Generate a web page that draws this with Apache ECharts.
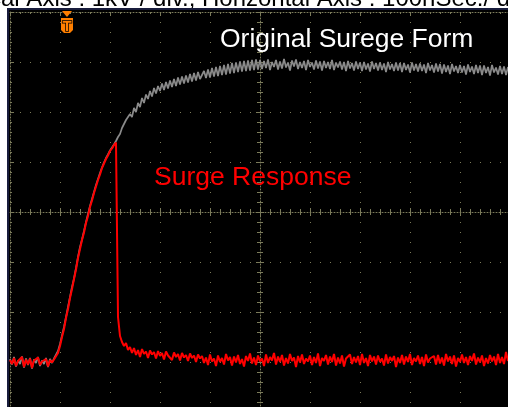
<!DOCTYPE html>
<html><head><meta charset="utf-8">
<script src="https://cdn.jsdelivr.net/npm/echarts@6/dist/echarts.min.js"></script>
<style>html,body{margin:0;padding:0;background:#fff}#c{width:508px;height:407px}</style>
</head><body><div id="c"></div>
<script>
// sampling: one sample every 4 ns starting at -500 ns (100 ns / div, 1 kV / div)
const sampleStartNs = -500;
const sampleStepNs = 4;

const originalSurgeKV = [
 -2.94,-3.05,-2.90,-3.09,-2.97,-3.04,-2.89,-3.11,-2.93,-3.06,-2.92,-3.13,-2.95,-3.02,-2.90,-3.08,-2.97,-3.04,-2.92,-3.10,-2.94,-3.02,-2.93,
 -2.94,-2.78,-2.64,-2.47,-2.30,-2.10,-1.90,-1.70,-1.50,-1.33,-1.12,-0.90,-0.70,-0.55,-0.38,-0.20,-0.04,0.12,0.26,0.40,0.54,0.66,0.78,0.89,0.99,1.08,1.15,1.23,1.29,1.35,1.42,
 1.50,1.56,1.68,1.70,1.84,1.80,1.96,1.90,2.08,2.00,2.18,2.10,2.28,2.18,2.35,2.26,2.42,2.31,2.48,2.37,2.52,2.42,
 2.57,2.44,2.60,2.47,2.63,2.50,2.66,2.52,2.69,2.55,2.71,2.57,2.73,2.59,2.76,2.61,2.78,2.63,2.80,2.66,
 2.66,2.82,2.68,2.85,2.69,2.88,2.71,2.90,2.72,2.92,2.74,2.94,2.75,2.96,2.77,2.98,2.78,2.99,2.80,3.01,2.81,3.02,2.82,3.03,2.83,3.04,2.84,3.05,2.85,3.04,
 2.86,3.02,2.88,3.05,2.84,3.00,2.90,3.04,2.85,3.01,
 2.87,3.06,2.89,2.99,2.83,3.03,2.91,3.05,2.86,3.00,
 2.88,3.02,2.84,3.04,2.90,2.99,2.85,3.03,2.87,3.01,
 2.83,3.02,2.88,3.00,2.86,3.04,2.84,2.99,2.89,3.01,
 2.85,3.00,2.82,3.02,2.87,2.98,2.83,3.01,2.86,2.99,
 2.82,3.00,2.85,2.97,2.81,3.01,2.86,2.98,2.83,2.99,
 2.84,2.97,2.80,3.00,2.85,2.96,2.82,2.99,2.83,2.98,
 2.80,2.98,2.84,2.95,2.79,2.99,2.83,2.96,2.81,2.97,
 2.82,2.95,2.78,2.98,2.83,2.94,2.79,2.97,2.81,2.96,
 2.77,2.95,2.80,2.93,2.76,2.96,2.81,2.92,2.78,2.94,
 2.79,2.92,2.75,2.95,2.80,2.91,2.76,2.94,2.78,2.93,
 2.74,2.93,2.78,2.90,2.73,2.94,2.79,2.89,2.75,2.92,
 2.76,2.91,2.74,2.90
];

const surgeResponseKV = [
 -2.96,-3.04,-2.92,-3.08,-2.98,-3.02,-2.90,-3.10,-2.95,-3.05,-2.93,-3.12,-2.97,-3.00,-2.91,-3.06,-2.99,-3.03,-2.94,-3.09,-2.96,-3.01,-2.95,
 -2.96,-2.82,-2.68,-2.50,-2.34,-2.12,-1.94,-1.72,-1.54,-1.34,-1.15,-0.92,-0.74,-0.56,-0.41,-0.22,-0.08,0.10,0.23,0.38,0.51,0.64,0.75,0.88,0.97,1.06,1.13,1.22,1.27,1.34,1.39,
 -2.10,-2.48,-2.60,-2.68,-2.62,-2.76,-2.70,
 -2.82,-2.72,-2.86,-2.76,-2.90,-2.74,-2.84,-2.79,-2.92,-2.77,-2.85,-2.80,-2.93,-2.78,-2.88,-2.82,-2.95,-2.79,-2.87,-2.83,-2.96,-2.81,-2.90,-2.84,-2.97,-2.82,-2.91,-2.86,-2.98,-2.83,-2.92,-2.87,-3.00,-2.85,-2.93,
 -2.88,-3.02,-2.91,-3.06,-2.85,-2.99,-2.93,-3.08,-2.87,-3.00,
 -2.92,-3.05,-2.84,-2.97,-2.90,-3.07,-2.89,-3.01,-2.86,-3.04,
 -2.94,-3.09,-2.88,-2.98,-2.83,-3.03,-2.91,-3.06,-2.87,-2.99,
 -2.93,-3.08,-2.85,-3.02,-2.90,-2.97,-2.82,-3.05,-2.89,-3.00,
 -2.86,-3.07,-2.92,-3.03,-2.84,-2.98,-2.91,-3.10,-2.88,-3.01,
 -2.85,-3.04,-2.93,-2.99,-2.87,-3.06,-2.90,-3.02,-2.83,-3.08,
 -2.92,-2.98,-2.86,-3.05,-2.89,-3.00,-2.84,-3.07,-2.91,-3.03,
 -2.87,-3.09,-2.93,-2.97,-2.85,-3.04,-2.90,-3.01,-2.88,-3.06,
 -2.84,-3.02,-2.92,-3.08,-2.86,-2.99,-2.89,-3.05,-2.87,-3.00,
 -2.93,-3.07,-2.85,-3.03,-2.90,-2.98,-2.88,-3.10,-2.91,-3.02,
 -2.86,-3.05,-2.89,-3.00,-2.84,-3.06,-2.92,-2.99,-2.87,-3.04,
 -2.90,-3.08,-2.85,-3.01,-2.93,-2.97,-2.88,-3.05,-2.86,-3.03,
 -2.91,-3.07,-2.84,-2.99,-2.89,-3.04,-2.87,-3.09,-2.92,-3.00,
 -2.85,-3.02,-2.90,-3.06,-2.88,-2.98,-2.83,-3.05,-2.91,-3.01,
 -2.87,-3.08,-2.92,-3.03,-2.86,-2.99,-2.89,-3.06,-2.84,-3.02,
 -2.90,-3.04,-2.80,-2.98
];

const headerText = 'Vertical Axis : 1kV / div.; Horizontal Axis : 100nSec./ div.';
const originalLabel = 'Original Surege Form';
const responseLabel = 'Surge Response';
const triggerLabel = 'T';

const toPairs = arr => arr.map((v, i) => [sampleStartNs + i * sampleStepNs, v]);

const GRIDC = '#7b7b5a';
const FONT = '"Liberation Sans", Arial, sans-serif';

function xAx(extra) {
  return Object.assign({
    type: 'value', min: -500, max: 500, interval: 100,
    axisLabel: { show: false }, splitLine: { show: false },
    axisTick: { show: false }, minorTick: { show: false }, axisLine: { show: false }
  }, extra);
}
function yAx(extra) {
  return Object.assign({
    type: 'value', min: -4, max: 4, interval: 1,
    axisLabel: { show: false }, splitLine: { show: false },
    axisTick: { show: false }, minorTick: { show: false }, axisLine: { show: false }
  }, extra);
}
const tickStyle = { color: GRIDC, width: 1 };

const chart = echarts.init(document.getElementById('c'), null, { renderer: 'canvas' });
chart.setOption({
  animation: false,
  backgroundColor: '#000000',
  grid: { left: 10, top: 12, width: 500, height: 400, containLabel: false, outerBoundsMode: 'none', show: false },
  xAxis: [
    xAx({ position: 'bottom',
      axisLine: { show: true, onZero: true, onZeroAxisIndex: 0, lineStyle: { color: GRIDC, width: 1, type: [1, 2] } },
      axisTick: { show: true, length: 4, lineStyle: tickStyle },
      minorTick: { show: true, splitNumber: 5, length: 3, lineStyle: tickStyle },
      splitLine: { show: true, lineStyle: { color: GRIDC, width: 1, type: [1, 9] } } }),
    xAx({ position: 'top',
      axisLine: { show: false, onZero: true, onZeroAxisIndex: 0 },
      axisTick: { show: true, length: 4, lineStyle: tickStyle },
      minorTick: { show: true, splitNumber: 5, length: 3, lineStyle: tickStyle } }),
    xAx({ position: 'top',
      axisLine: { show: true, onZero: false, lineStyle: { color: GRIDC, width: 1, type: [1, 2] } },
      axisTick: { show: true, inside: true, length: 4, lineStyle: tickStyle },
      minorTick: { show: true, splitNumber: 5, length: 2, lineStyle: tickStyle } })
  ],
  yAxis: [
    yAx({ position: 'left',
      axisLine: { show: true, onZero: true, onZeroAxisIndex: 0, lineStyle: { color: GRIDC, width: 1, type: [1, 2] } },
      axisTick: { show: true, length: 4, lineStyle: tickStyle },
      minorTick: { show: true, splitNumber: 5, length: 3, lineStyle: tickStyle },
      splitLine: { show: true, lineStyle: { color: GRIDC, width: 1, type: [1, 9] } } }),
    yAx({ position: 'right',
      axisLine: { show: false, onZero: true, onZeroAxisIndex: 0 },
      axisTick: { show: true, length: 4, lineStyle: tickStyle },
      minorTick: { show: true, splitNumber: 5, length: 3, lineStyle: tickStyle } }),
    yAx({ position: 'left',
      axisLine: { show: true, onZero: false, lineStyle: { color: GRIDC, width: 1, type: [1, 2] } },
      axisTick: { show: true, inside: true, length: 4, lineStyle: tickStyle },
      minorTick: { show: true, splitNumber: 5, length: 2, lineStyle: tickStyle } })
  ],
  series: [
    { name: originalLabel, type: 'line', xAxisIndex: 0, yAxisIndex: 0, data: toPairs(originalSurgeKV),
      showSymbol: false, symbol: 'none', lineStyle: { color: '#8a8a8a', width: 1.7 }, z: 3 },
    { name: responseLabel, type: 'line', xAxisIndex: 0, yAxisIndex: 0, data: toPairs(surgeResponseKV),
      showSymbol: false, symbol: 'none', lineStyle: { color: '#ff0000', width: 2 }, z: 4 }
  ],
  graphic: [
    { type: 'rect', z: 100, shape: { x: 0, y: 0, width: 508, height: 8 }, style: { fill: '#ffffff' } },
    { type: 'rect', z: 100, shape: { x: 0, y: 0, width: 7, height: 407 }, style: { fill: '#ffffff' } },
    { type: 'text', z: 101, x: -59, y: -0.5,
      style: { text: headerText, fill: '#000000', font: '24px ' + FONT, verticalAlign: 'middle', align: 'left' } },
    { type: 'rect', z: 102, shape: { x: 7, y: 8, width: 501, height: 2 }, style: { fill: '#181c3c' } },
    { type: 'rect', z: 102, shape: { x: 7, y: 8, width: 2, height: 399 }, style: { fill: '#181c3c' } },
    { type: 'text', z: 103, x: 220, y: 39.3,
      style: { text: originalLabel, fill: '#ffffff', font: '26.5px ' + FONT, verticalAlign: 'middle', align: 'left' } },
    { type: 'text', z: 103, x: 154, y: 178,
      style: { text: responseLabel, fill: '#ff0000', font: '26.5px ' + FONT, verticalAlign: 'middle', align: 'left' } },
    { type: 'polygon', z: 103, shape: { points: [[62, 11], [72, 11], [67, 17]] }, style: { fill: '#ff7f00' } },
    { type: 'polygon', z: 103, shape: { points: [[61, 18], [73, 18], [73, 30], [70, 33], [64, 33], [61, 30]] }, style: { fill: '#ff7f00' } },
    { type: 'text', z: 104, x: 67, y: 26.5,
      style: { text: triggerLabel, fill: '#ff7f00', stroke: '#000000', lineWidth: 1.5, font: 'bold 15px ' + FONT, verticalAlign: 'middle', align: 'center' } }
  ]
});
</script></body></html>
